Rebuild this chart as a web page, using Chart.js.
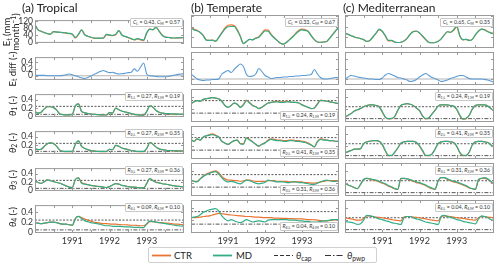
<!DOCTYPE html>
<html>
<head>
<meta charset="utf-8">
<script src="https://cdn.jsdelivr.net/npm/chart.js@4.4.1/dist/chart.umd.min.js"></script>
<style>
  html, body { margin: 0; padding: 0; background: #fff; }
  body { position: relative; width: 500px; height: 267px; overflow: hidden; font-family: Lato, sans-serif; color: #222; }
  canvas { position: absolute; }
  .txt { position: absolute; white-space: nowrap; line-height: 1; }
  .title { font-size: 12px; }
  .ylab { font-size: 9.5px; transform: translate(-50%, -50%) rotate(-90deg); text-align: center; line-height: 9px; }
  .note { font-size: 5.3px; background: #fff; border: 0.6px solid #c8c8c8; border-radius: 1px; padding: 1px 1.5px; color: #333; }
  sub { font-size: 70%; vertical-align: -0.25em; line-height: 0; }
  sup { font-size: 70%; vertical-align: 0.45em; line-height: 0; }
  #legend { position: absolute; left: 148px; top: 247px; width: 229px; height: 16px; border: 1px solid #d0d0d0; border-radius: 2px; box-sizing: border-box; font-size: 9.5px; }
  #legend .txt { top: 3px; }
  #legend svg { position: absolute; left: 0; top: 0; }
</style>
</head>
<body>
<div id="legend">
  <svg width="229" height="16">
    <line x1="3" y1="7.5" x2="22" y2="7.5" stroke="#ea7434" stroke-width="1.8"/>
    <line x1="64" y1="7.5" x2="83" y2="7.5" stroke="#33ad87" stroke-width="1.8"/>
    <line x1="125" y1="7.5" x2="144" y2="7.5" stroke="#333" stroke-width="1.2" stroke-dasharray="4 2"/>
    <line x1="176" y1="7.5" x2="195" y2="7.5" stroke="#333" stroke-width="1.2" stroke-dasharray="6 2 1.5 2"/>
  </svg>
  <span class="txt" style="left:25px">CTR</span>
  <span class="txt" style="left:87px">MD</span>
  <span class="txt" style="left:147px"><i>θ</i><sub>cap</sub></span>
  <span class="txt" style="left:198px"><i>θ</i><sub>pwp</sub></span>
</div>
<script>
// monthly values, Jan 1990 .. Jan 1994 (49 points)
const startYear = 1990;
const xMin = 1990, xMax = 1994;
const yearTicks = [1991, 1992, 1993];
const minorXTicks = [1990.5, 1991, 1991.5, 1992, 1992.5, 1993, 1993.5];
const etTicks = [0, 40, 80, 120];
const fracTicks = [0, 0.2, 0.4];

// (a) Tropical
const trEtMd  = [98,70,62,55,49,46,60,58,57,55, 53,51,47,28,45,70,43,35,29,25, 24,24,25,45,42,40,45,66,42,34, 28,22,16,22,18,14,55,74,70,84, 62,40,30,28,26,25,26,27,28];
const trEtCtr = [98,70,62,55,49,46,60,58,57,55, 52,49,46,25,45,70,44,35,29,24, 23,23,24,42,40,38,43,66,41,33, 27,20,14,20,15,11,53,74,71,85, 63,41,30,28,26,25,26,26,27];
const trDiff  = [0.01,0.01,0.01,0.01,0.0,0.0,0.0,0.0,0.0,0.01, 0.03,0.05,0.03,0.0,-0.03,-0.06,-0.08,-0.05,-0.01,0.04, 0.08,0.12,0.15,0.12,0.09,0.1,0.07,0.05,0.06,0.07, 0.09,0.1,0.2,0.13,0.25,0.37,0.05,0.0,-0.01,-0.02, -0.03,-0.03,-0.03,-0.02,0.0,0.02,0.04,0.05,0.06];
const trT1Md  = [0.11,0.08,0.10,0.18,0.23,0.23,0.21,0.15,0.06,0.045, 0.04,0.04,0.05,0.25,0.30,0.12,0.09,0.07,0.06,0.05, 0.045,0.04,0.035,0.035,0.09,0.08,0.20,0.16,0.13,0.11, 0.09,0.07,0.05,0.04,0.03,0.03,0.12,0.25,0.22,0.14, 0.10,0.08,0.07,0.07,0.06,0.06,0.055,0.055,0.055];
const trT1Ctr = [0.11,0.08,0.10,0.18,0.23,0.23,0.21,0.15,0.06,0.045, 0.04,0.04,0.05,0.25,0.30,0.12,0.085,0.07,0.055,0.05, 0.045,0.04,0.035,0.035,0.09,0.08,0.20,0.16,0.125,0.105, 0.085,0.065,0.05,0.04,0.03,0.03,0.12,0.25,0.22,0.14, 0.10,0.08,0.07,0.065,0.06,0.055,0.055,0.05,0.05];
const trT2Md  = [0.11,0.09,0.10,0.17,0.23,0.25,0.23,0.17,0.08,0.05, 0.05,0.05,0.05,0.22,0.30,0.17,0.12,0.09,0.07,0.06, 0.05,0.05,0.05,0.05,0.10,0.09,0.19,0.17,0.13,0.11, 0.09,0.07,0.06,0.05,0.05,0.05,0.12,0.26,0.22,0.15, 0.11,0.09,0.08,0.07,0.07,0.065,0.06,0.06,0.06];
const trT2Ctr = [0.11,0.09,0.10,0.17,0.23,0.25,0.23,0.17,0.08,0.05, 0.045,0.045,0.045,0.22,0.30,0.17,0.12,0.09,0.07,0.055, 0.05,0.045,0.045,0.045,0.10,0.09,0.19,0.17,0.13,0.11, 0.09,0.07,0.055,0.045,0.045,0.045,0.12,0.26,0.22,0.15, 0.11,0.09,0.08,0.07,0.065,0.06,0.06,0.055,0.055];
const trT3Md  = [0.22,0.19,0.17,0.21,0.25,0.23,0.21,0.19,0.17,0.14, 0.11,0.08,0.07,0.26,0.30,0.17,0.15,0.14,0.12,0.11, 0.10,0.09,0.08,0.07,0.09,0.13,0.16,0.15,0.12,0.11, 0.09,0.08,0.08,0.07,0.06,0.06,0.17,0.28,0.23,0.19, 0.18,0.16,0.15,0.14,0.12,0.11,0.10,0.09,0.08];
const trT3Ctr = [0.22,0.19,0.17,0.21,0.25,0.23,0.21,0.19,0.17,0.14, 0.11,0.08,0.07,0.26,0.30,0.19,0.16,0.14,0.12,0.11, 0.10,0.09,0.08,0.07,0.09,0.13,0.16,0.15,0.12,0.11, 0.09,0.08,0.08,0.07,0.06,0.06,0.17,0.28,0.24,0.20, 0.18,0.16,0.15,0.14,0.12,0.11,0.10,0.09,0.08];
const trT4Md  = [0.19,0.18,0.17,0.18,0.19,0.20,0.20,0.19,0.17,0.16, 0.16,0.15,0.14,0.27,0.31,0.27,0.23,0.21,0.19,0.18, 0.17,0.16,0.14,0.13,0.13,0.12,0.12,0.12,0.115,0.11, 0.11,0.105,0.10,0.10,0.095,0.095,0.17,0.22,0.21,0.20, 0.19,0.18,0.17,0.16,0.15,0.14,0.13,0.125,0.12];
const trT4Ctr = [0.19,0.18,0.17,0.18,0.19,0.20,0.20,0.19,0.17,0.16, 0.16,0.15,0.14,0.27,0.31,0.29,0.26,0.24,0.22,0.20, 0.19,0.18,0.17,0.17,0.165,0.16,0.16,0.155,0.15,0.15, 0.145,0.14,0.14,0.135,0.13,0.13,0.16,0.21,0.21,0.20, 0.19,0.19,0.18,0.18,0.17,0.16,0.16,0.155,0.15];
const trCap = 0.24, trPwp = 0.05;
const trC = ['0.43', '0.57'];
const trRL = ['0.27', '0.27', '0.27', '0.09'];
const trRM = ['0.19', '0.35', '0.36', '0.10'];

// (b) Temperate
const teEtMd  = [74,67,64,57,45,28,27,28,24,38, 55,70,79,80,80,65,42,15,23,31, 29,35,39,52,63,62,48,36,26,16, 13,20,30,40,52,62,67,65,61,44, 30,21,20,21,23,36,50,64,78];
const teEtCtr = [80,70,65,57,45,28,27,28,24,39, 57,74,85,86,84,68,43,15,23,31, 30,36,41,55,67,66,50,37,26,16, 13,20,31,42,55,66,70,68,62,45, 30,21,20,21,23,36,51,65,78];
const teDiff  = [0.10,0.05,0.0,-0.02,-0.03,-0.02,-0.02,-0.01,-0.01,0.0, 0.1,0.14,0.17,0.13,0.19,0.25,0.3,0.25,0.09,0.05, 0.06,0.1,0.21,0.15,0.07,0.04,0.01,0.02,0.03,0.03, 0.04,0.04,0.05,0.05,0.06,0.06,0.07,0.07,0.08,0.09, 0.19,0.1,0.03,0.0,0.0,0.01,0.02,0.03,0.03];
const teT1Md  = [0.29,0.32,0.34,0.33,0.36,0.37,0.38,0.39,0.38,0.37, 0.33,0.26,0.23,0.26,0.30,0.28,0.23,0.27,0.34,0.30, 0.26,0.24,0.21,0.23,0.27,0.30,0.31,0.32,0.32,0.31, 0.31,0.32,0.32,0.31,0.31,0.30,0.27,0.25,0.23,0.21, 0.22,0.28,0.34,0.34,0.33,0.32,0.31,0.30,0.29];
const teT1Ctr = [0.29,0.32,0.34,0.33,0.36,0.37,0.38,0.39,0.38,0.37, 0.33,0.26,0.23,0.26,0.30,0.28,0.23,0.28,0.35,0.31, 0.26,0.24,0.21,0.23,0.27,0.30,0.31,0.32,0.33,0.32, 0.32,0.33,0.32,0.31,0.31,0.30,0.27,0.25,0.23,0.21, 0.22,0.29,0.35,0.34,0.33,0.32,0.31,0.30,0.29];
const teT2Md  = [0.31,0.28,0.32,0.30,0.35,0.37,0.38,0.39,0.37,0.35, 0.28,0.25,0.23,0.26,0.29,0.30,0.24,0.23,0.33,0.30, 0.27,0.23,0.20,0.23,0.25,0.29,0.31,0.30,0.29,0.29, 0.28,0.28,0.29,0.29,0.28,0.28,0.27,0.26,0.24,0.22, 0.19,0.27,0.31,0.30,0.30,0.29,0.29,0.28,0.28];
const teT2Ctr = [0.31,0.28,0.32,0.30,0.35,0.37,0.39,0.40,0.38,0.35, 0.28,0.25,0.23,0.26,0.29,0.30,0.24,0.24,0.34,0.31, 0.27,0.23,0.20,0.23,0.26,0.30,0.32,0.31,0.30,0.30, 0.29,0.29,0.30,0.30,0.29,0.29,0.28,0.27,0.25,0.22, 0.19,0.28,0.32,0.31,0.30,0.29,0.29,0.28,0.28];
const teT3Md  = [0.25,0.23,0.22,0.27,0.31,0.34,0.36,0.38,0.39,0.35, 0.29,0.24,0.22,0.23,0.22,0.20,0.19,0.22,0.25,0.24, 0.22,0.20,0.19,0.20,0.21,0.25,0.24,0.23,0.22,0.22, 0.22,0.21,0.21,0.22,0.22,0.21,0.21,0.20,0.19,0.18, 0.18,0.20,0.22,0.24,0.25,0.24,0.23,0.23,0.24];
const teT3Ctr = [0.24,0.23,0.23,0.27,0.32,0.35,0.37,0.39,0.40,0.37, 0.31,0.27,0.25,0.25,0.24,0.24,0.23,0.24,0.25,0.25, 0.24,0.23,0.23,0.23,0.23,0.24,0.24,0.24,0.23,0.23, 0.23,0.23,0.22,0.22,0.22,0.22,0.22,0.21,0.21,0.20, 0.20,0.21,0.22,0.23,0.24,0.24,0.24,0.24,0.24];
const teT4Md  = [0.24,0.25,0.26,0.29,0.33,0.35,0.37,0.38,0.39,0.35, 0.27,0.22,0.19,0.21,0.19,0.17,0.16,0.18,0.21,0.19, 0.17,0.18,0.19,0.18,0.17,0.20,0.21,0.21,0.21,0.21, 0.21,0.21,0.20,0.20,0.20,0.19,0.19,0.18,0.18,0.17, 0.17,0.17,0.18,0.19,0.19,0.20,0.21,0.21,0.21];
const teT4Ctr = [0.24,0.24,0.245,0.25,0.26,0.265,0.27,0.285,0.30,0.31, 0.305,0.30,0.29,0.285,0.28,0.275,0.27,0.265,0.26,0.26, 0.255,0.25,0.25,0.245,0.24,0.24,0.24,0.235,0.235,0.23, 0.23,0.23,0.225,0.225,0.22,0.22,0.22,0.215,0.21,0.21, 0.205,0.20,0.195,0.19,0.19,0.195,0.20,0.205,0.21];
const teCap = 0.34, tePwp = 0.135;
const teC = ['0.33', '0.67'];
const teRL = ['0.24', '0.41', '0.31', '0.04'];
const teRM = ['0.19', '0.35', '0.36', '0.10'];

// (c) Mediterranean
const meEtMd  = [55,50,45,40,37,34,30,23,27,40, 55,70,62,45,27,27,21,19,20,25, 35,50,60,62,55,44,31,20,18,19, 24,33,48,60,58,68,83,45,30,31, 27,31,48,62,70,67,60,55,52];
const meEtCtr = [55,50,45,40,37,34,30,23,27,40, 54,67,61,43,25,26,21,19,20,25, 35,51,62,63,55,42,29,19,18,19, 24,33,48,60,58,66,78,43,29,31, 27,31,48,63,70,68,61,56,55];
const meDiff  = [-0.01,0.04,0.07,0.06,0.04,0.03,0.02,0.01,0.0,0.0, -0.01,-0.01,0.02,0.08,0.11,0.09,0.06,0.03,0.02,0.0, -0.02,-0.05,-0.04,-0.01,0.04,0.08,0.11,0.07,0.03,0.01, -0.02,-0.05,-0.04,-0.02,0.01,0.03,0.05,0.07,0.07,0.04, 0.01,0.0,0.0,0.0,0.0,-0.01,-0.02,-0.04,-0.07];
const meT1Md  = [0.07,0.10,0.13,0.17,0.19,0.21,0.24,0.26,0.27,0.27, 0.26,0.24,0.16,0.07,0.045,0.05,0.08,0.18,0.26,0.28, 0.29,0.28,0.26,0.22,0.18,0.09,0.045,0.06,0.12,0.18, 0.25,0.27,0.27,0.27,0.26,0.25,0.20,0.10,0.04,0.05, 0.10,0.20,0.26,0.27,0.27,0.27,0.25,0.21,0.17];
const meT1Ctr = [0.07,0.10,0.13,0.17,0.19,0.21,0.24,0.26,0.27,0.27, 0.26,0.24,0.15,0.065,0.04,0.045,0.08,0.18,0.26,0.28, 0.29,0.28,0.26,0.22,0.17,0.085,0.04,0.055,0.12,0.18, 0.25,0.27,0.27,0.27,0.26,0.25,0.19,0.09,0.035,0.045, 0.10,0.20,0.26,0.27,0.27,0.27,0.25,0.21,0.17];
const meT2Md  = [0.09,0.11,0.13,0.15,0.15,0.16,0.24,0.27,0.28,0.29, 0.29,0.28,0.23,0.13,0.05,0.05,0.10,0.17,0.25,0.27, 0.28,0.28,0.28,0.26,0.21,0.13,0.05,0.05,0.07,0.15, 0.24,0.27,0.28,0.28,0.27,0.26,0.20,0.10,0.05,0.05, 0.10,0.22,0.27,0.28,0.28,0.27,0.26,0.22,0.18];
const meT2Ctr = [0.09,0.11,0.13,0.15,0.15,0.16,0.24,0.27,0.28,0.29, 0.29,0.28,0.22,0.12,0.045,0.045,0.10,0.17,0.25,0.27, 0.28,0.28,0.28,0.26,0.20,0.12,0.045,0.045,0.07,0.15, 0.24,0.27,0.28,0.28,0.27,0.26,0.19,0.09,0.045,0.045, 0.10,0.22,0.27,0.28,0.28,0.27,0.26,0.22,0.18];
const meT3Md  = [0.19,0.17,0.15,0.13,0.11,0.18,0.26,0.28,0.27,0.26, 0.25,0.23,0.21,0.19,0.16,0.14,0.11,0.10,0.28,0.28, 0.27,0.26,0.24,0.22,0.21,0.19,0.17,0.14,0.12,0.10, 0.24,0.29,0.29,0.27,0.25,0.23,0.22,0.20,0.18,0.16, 0.13,0.11,0.10,0.26,0.28,0.29,0.27,0.23,0.18];
const meT3Ctr = [0.19,0.17,0.15,0.13,0.11,0.18,0.26,0.28,0.27,0.25, 0.24,0.22,0.20,0.18,0.15,0.13,0.11,0.10,0.27,0.28, 0.27,0.25,0.23,0.21,0.20,0.18,0.16,0.13,0.11,0.10, 0.23,0.29,0.29,0.26,0.24,0.22,0.21,0.19,0.17,0.15, 0.12,0.11,0.10,0.25,0.28,0.28,0.26,0.22,0.18];
const meT4Md  = [0.18,0.17,0.165,0.15,0.13,0.14,0.20,0.28,0.27,0.26, 0.24,0.22,0.21,0.19,0.18,0.16,0.15,0.14,0.13,0.24, 0.26,0.26,0.24,0.22,0.21,0.19,0.17,0.16,0.15,0.14, 0.13,0.26,0.28,0.26,0.25,0.23,0.21,0.20,0.18,0.17, 0.16,0.15,0.14,0.22,0.27,0.26,0.24,0.21,0.19];
const meT4Ctr = [0.24,0.23,0.22,0.21,0.20,0.20,0.23,0.27,0.27,0.26, 0.25,0.245,0.24,0.23,0.22,0.21,0.20,0.195,0.19,0.25, 0.26,0.26,0.25,0.245,0.24,0.23,0.22,0.21,0.20,0.195, 0.19,0.26,0.27,0.265,0.26,0.25,0.24,0.235,0.23,0.22, 0.21,0.205,0.20,0.24,0.26,0.26,0.25,0.245,0.24];
const meCap = 0.24, mePwp = 0.045;
const meC = ['0.65', '0.35'];
const meRL = ['0.24', '0.41', '0.31', '0.04'];
const meRM = ['0.19', '0.35', '0.36', '0.10'];

const monthX = trEtMd.map((_, i) => startYear + i / 12);

const CTR_COLOR = '#ea7434', MD_COLOR = '#33ad87', DIFF_COLOR = '#5b9bd5';
const colX = [35, 191, 345], colW = [149, 148, 149];
const rowY = [15, 52, 89, 126, 163, 200], rowH = 33;
const YW = 33, XH = 14;

const columns = [
  { title: '(a) Tropical', titleX: 22, et: [trEtMd, trEtCtr], diff: trDiff,
    md: [trT1Md, trT2Md, trT3Md, trT4Md], ctr: [trT1Ctr, trT2Ctr, trT3Ctr, trT4Ctr],
    cap: trCap, pwp: trPwp, c: trC, rl: trRL, rm: trRM, rPos: 'top' },
  { title: '(b) Temperate', titleX: 191, et: [teEtMd, teEtCtr], diff: teDiff,
    md: [teT1Md, teT2Md, teT3Md, teT4Md], ctr: [teT1Ctr, teT2Ctr, teT3Ctr, teT4Ctr],
    cap: teCap, pwp: tePwp, c: teC, rl: teRL, rm: teRM, rPos: 'bottom' },
  { title: '(c) Mediterranean', titleX: 343, et: [meEtMd, meEtCtr], diff: meDiff,
    md: [meT1Md, meT2Md, meT3Md, meT4Md], ctr: [meT1Ctr, meT2Ctr, meT3Ctr, meT4Ctr],
    cap: meCap, pwp: mePwp, c: meC, rl: meRL, rm: meRM, rPos: 'top' }
];

Chart.defaults.font.family = 'Lato, sans-serif';
Chart.defaults.color = '#333';

// matplotlib-like frame with inward ticks on all four sides
const framePlugin = {
  id: 'frame',
  afterDatasetsDraw(chart, args, opts) {
    const { ctx, chartArea: a, scales } = chart;
    ctx.save();
    ctx.strokeStyle = '#9a9a9a';
    ctx.lineWidth = 1;
    ctx.strokeRect(a.left + 0.5, a.top + 0.5, a.width - 1, a.height - 1);
    ctx.beginPath();
    minorXTicks.forEach(v => {
      const px = Math.round(scales.x.getPixelForValue(v)) + 0.5;
      ctx.moveTo(px, a.bottom); ctx.lineTo(px, a.bottom - 3);
      ctx.moveTo(px, a.top); ctx.lineTo(px, a.top + 3);
    });
    opts.yTicks.forEach(v => {
      const py = Math.round(scales.y.getPixelForValue(v)) + 0.5;
      ctx.moveTo(a.left, py); ctx.lineTo(a.left + 3, py);
      ctx.moveTo(a.right, py); ctx.lineTo(a.right - 3, py);
    });
    ctx.stroke();
    ctx.restore();
  }
};

function series(values, color, width) {
  return {
    data: values.map((v, i) => ({ x: monthX[i], y: v })),
    borderColor: color, borderWidth: width, pointRadius: 0, fill: false,
    cubicInterpolationMode: 'monotone'
  };
}

function hline(y, color, width, dash) {
  return {
    data: [{ x: xMin, y: y }, { x: xMax, y: y }],
    borderColor: color, borderWidth: width, borderDash: dash, pointRadius: 0, fill: false
  };
}

function addText(html, cls, style) {
  const d = document.createElement('div');
  d.className = 'txt ' + cls;
  d.innerHTML = html;
  Object.assign(d.style, style);
  document.body.appendChild(d);
  return d;
}

function makePanel(r, c) {
  const col = columns[c];
  const bx = colX[c], by = rowY[r], bw = colW[c], bh = rowH;
  const showY = c === 0, showX = r === 5;
  const padL = showY ? YW : 0, padB = showX ? XH : 0;
  const cv = document.createElement('canvas');
  cv.width = bw + 4 + padL; cv.height = bh + 4 + padB;
  cv.style.width = cv.width + 'px'; cv.style.height = cv.height + 'px';
  cv.style.left = (bx - 2 - padL) + 'px'; cv.style.top = (by - 2) + 'px';
  document.body.appendChild(cv);

  let datasets, yMin, yMax, yTicks;
  if (r === 0) {
    datasets = [series(col.et[0], MD_COLOR, 1.2), series(col.et[1], CTR_COLOR, 1.2)];
    yMin = -2; yMax = 124; yTicks = etTicks;
  } else if (r === 1) {
    datasets = [series(col.diff, DIFF_COLOR, 1.1), hline(0, '#b5b5b5', 1, [])];
    yMin = -0.12; yMax = 0.54; yTicks = fracTicks;
  } else {
    const k = r - 2;
    datasets = [
      series(col.md[k], MD_COLOR, 1.2),
      series(col.ctr[k], CTR_COLOR, 1.2),
      hline(col.cap, '#444', 0.9, [2, 1.5]),
      hline(col.pwp, '#444', 0.9, [4, 1.5, 1.2, 1.5])
    ];
    yMin = -0.01; yMax = 0.53; yTicks = fracTicks;
  }

  const xScale = {
    type: 'linear', min: xMin, max: xMax, display: showX,
    afterBuildTicks: s => { s.ticks = yearTicks.map(v => ({ value: v })); },
    grid: { display: false, drawTicks: false }, border: { display: false },
    ticks: { font: { size: 9 }, color: '#333', padding: 3, maxRotation: 0, autoSkip: false, callback: v => String(v) }
  };
  if (showX) xScale.afterFit = s => { s.height = XH; };
  const yScale = {
    type: 'linear', min: yMin, max: yMax, display: showY,
    afterBuildTicks: s => { s.ticks = yTicks.map(v => ({ value: v })); },
    grid: { display: false, drawTicks: false }, border: { display: false },
    ticks: { font: { size: 8.5 }, color: '#333', padding: 2, autoSkip: false, callback: v => String(v) }
  };
  if (showY) yScale.afterFit = s => { s.width = YW; };

  new Chart(cv, {
    type: 'line',
    data: { datasets },
    options: {
      responsive: false,
      animation: false,
      devicePixelRatio: 1,
      events: [],
      layout: { padding: 2 },
      plugins: { legend: { display: false }, tooltip: { enabled: false }, frame: { yTicks } },
      scales: { x: xScale, y: yScale }
    },
    plugins: [framePlugin]
  });

  // small annotation boxes
  let html, pos = 'top';
  if (r === 0) {
    html = '<i>C</i><sub>L</sub> = ' + col.c[0] + ', <i>C</i><sub>M</sub> = ' + col.c[1];
  } else if (r >= 2) {
    const k = r - 1;
    html = '<i>R</i><sub>' + k + ',L</sub> = ' + col.rl[k - 1] + ', <i>R</i><sub>' + k + ',M</sub> = ' + col.rm[k - 1];
    pos = col.rPos;
  }
  if (html) {
    const style = { right: (500 - (bx + bw) + 1.5) + 'px' };
    if (pos === 'top') style.top = (by + 2.5) + 'px';
    else style.bottom = (267 - (by + bh) + 2) + 'px';
    addText(html, 'note', style);
  }
}

for (let c = 0; c < 3; c++) {
  for (let r = 0; r < 6; r++) makePanel(r, c);
  addText(columns[c].title, 'title', { left: columns[c].titleX + 'px', top: '2px' });
}

// y-axis titles of the first column
const yTitles = [
  'E<sub>t</sub> (mm<br>month<sup>−1</sup>)',
  'E<sub>t</sub> diff (-)',
  '<i>θ</i><sub>1</sub> (-)',
  '<i>θ</i><sub>2</sub> (-)',
  '<i>θ</i><sub>3</sub> (-)',
  '<i>θ</i><sub>4</sub> (-)'
];
yTitles.forEach((t, r) => {
  addText(t, 'ylab', { left: (r === 0 ? 11 : 12) + 'px', top: (rowY[r] + rowH / 2) + 'px' });
});
</script>
</body>
</html>
